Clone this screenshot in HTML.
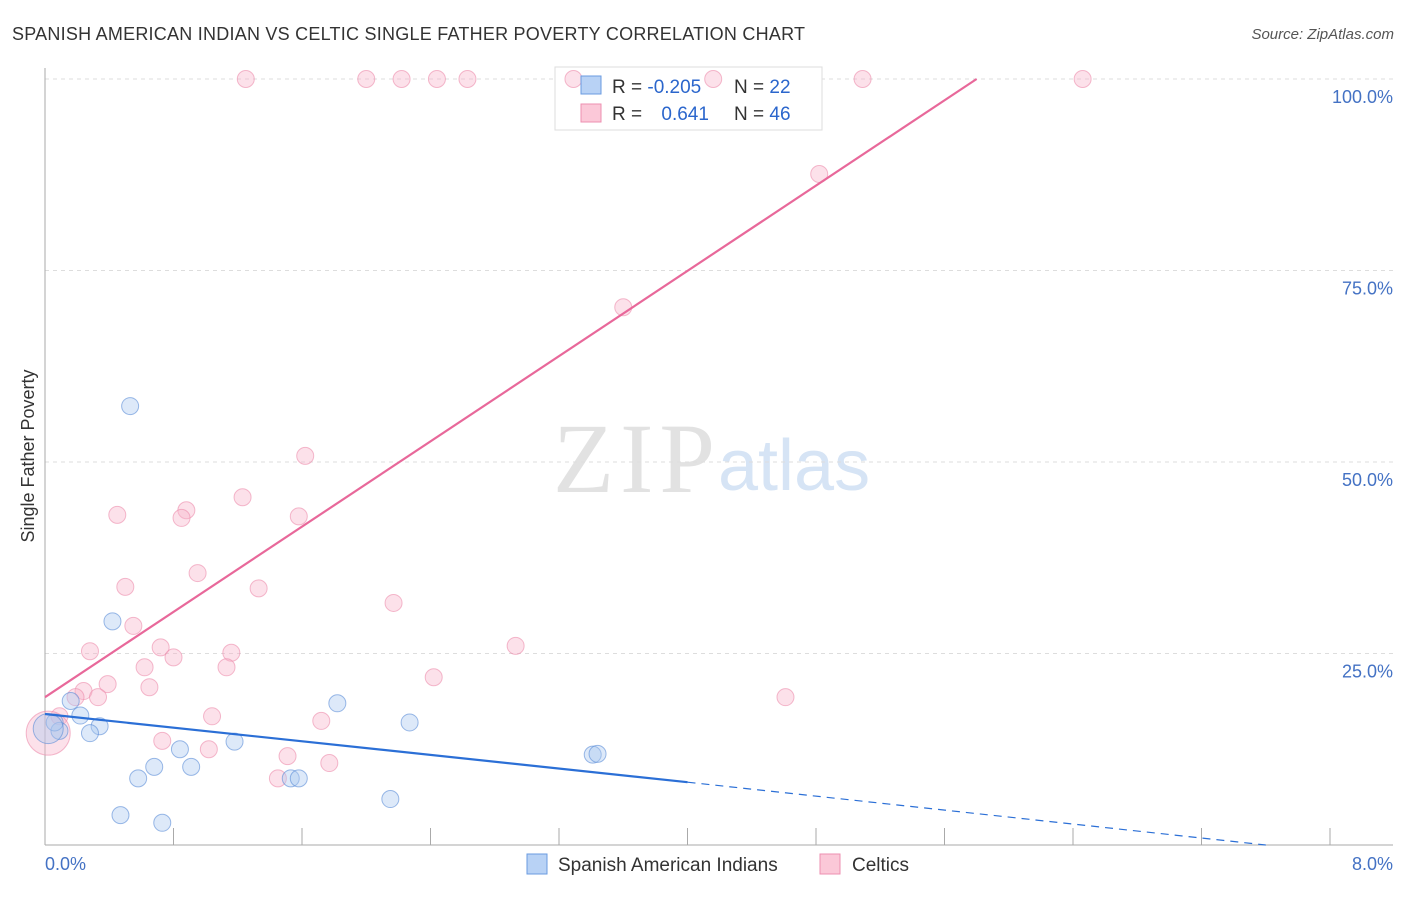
<!DOCTYPE html>
<html><head><meta charset="utf-8"><style>
body{margin:0;background:#fff;font-family:"Liberation Sans",sans-serif}
</style></head><body>
<svg id="chart" width="1406" height="892" font-family="Liberation Sans, sans-serif">
<text x="12" y="40" font-size="18" fill="#333" textLength="793">SPANISH AMERICAN INDIAN VS CELTIC SINGLE FATHER POVERTY CORRELATION CHART</text>
<text x="1394" y="39" font-size="15" fill="#555" font-style="italic" text-anchor="end">Source: ZipAtlas.com</text>
<text x="553" y="492" font-size="100" fill="#e2e2e2" style="font-family:'Liberation Serif',serif" textLength="162">ZIP</text>
<text x="718" y="490" font-size="72" fill="#d6e4f5">atlas</text>
<g id="grid"></g>
<g id="axes"></g>
<g>
<rect x="555" y="67" width="267" height="63" fill="#fff" stroke="#ddd"/>
</g>
<g id="pts"></g>
<g id="lines"></g>
<g>
<rect x="581" y="76" width="20" height="18" fill="#b8d2f5" stroke="#6a9be0"/>
<rect x="581" y="104" width="20" height="18" fill="#fbc8d8" stroke="#ee8fb0"/>
<text x="612" y="93" font-size="19" fill="#333">R = <tspan fill="#2b66cc">-0.205</tspan></text>
<text x="734" y="93" font-size="19" fill="#333">N = <tspan fill="#2b66cc">22</tspan></text>
<text x="612" y="120" font-size="19" fill="#333">R = <tspan fill="#2b66cc" dx="14">0.641</tspan></text>
<text x="734" y="120" font-size="19" fill="#333">N = <tspan fill="#2b66cc">46</tspan></text>
</g>
<text transform="translate(34,456) rotate(-90)" font-size="18" fill="#333" text-anchor="middle">Single Father Poverty</text>
<text x="45" y="870" font-size="18" fill="#4472c4">0.0%</text>
<text x="1393" y="870" font-size="18" fill="#4472c4" text-anchor="end">8.0%</text>
<g>
<rect x="527" y="854" width="20" height="20" fill="#b8d2f5" stroke="#6a9be0"/>
<text x="558" y="871" font-size="19" fill="#333">Spanish American Indians</text>
<rect x="820" y="854" width="20" height="20" fill="#fbc8d8" stroke="#ee8fb0"/>
<text x="852" y="871" font-size="19" fill="#333">Celtics</text>
</g>
</svg>
<script>
const yTicks=[25,50,75,100];
const yTickLabels=["25.0%","50.0%","75.0%","100.0%"];
const xTicks=[0,0.8,1.6,2.4,3.2,4.0,4.8,5.6,6.4,7.2,8.0];
const blueX=[0.53,0.42,0.16,0.22,0.34,0.28,0.09,0.06,1.82,2.27,0.84,1.18,0.68,0.91,0.58,1.53,1.58,2.15,0.47,0.73,3.41,3.44,0.02];
const blueY=[57.3,29.2,18.8,16.9,15.5,14.6,14.9,16.0,18.5,16.0,12.5,13.5,10.2,10.2,8.7,8.7,8.7,6.0,3.9,2.9,11.8,11.9,15.2];
const pinkX=[1.25,2.0,2.22,2.44,2.63,3.29,4.16,5.09,6.46,4.82,3.6,1.62,1.23,0.88,0.85,0.45,1.58,0.5,0.95,1.33,2.17,0.55,0.72,1.16,0.8,0.28,2.93,0.62,1.13,0.39,0.65,2.42,4.61,0.24,0.33,0.19,1.04,1.72,0.09,0.73,1.02,1.51,1.77,1.45,0.02];
const pinkY=[100,100,100,100,100,100,100,100,100,87.6,70.2,50.8,45.4,43.7,42.7,43.1,42.9,33.7,35.5,33.5,31.6,28.6,25.8,25.1,24.5,25.3,26.0,23.2,23.2,21.0,20.6,21.9,19.3,20.1,19.3,19.3,16.8,16.2,16.8,13.6,12.5,11.6,10.7,8.7,14.6];
const blueSize=[8.5,8.5,8.5,8.5,8.5,8.5,8.5,8.5,8.5,8.5,8.5,8.5,8.5,8.5,8.5,8.5,8.5,8.5,8.5,8.5,8.5,8.5,15];
const pinkSize=[8.5,8.5,8.5,8.5,8.5,8.5,8.5,8.5,8.5,8.5,8.5,8.5,8.5,8.5,8.5,8.5,8.5,8.5,8.5,8.5,8.5,8.5,8.5,8.5,8.5,8.5,8.5,8.5,8.5,8.5,8.5,8.5,8.5,8.5,8.5,8.5,8.5,8.5,8.5,8.5,8.5,8.5,8.5,8.5,22];
const pinkLine=[[0,19.3],[5.8,100]];
const blueLine=[[0,17.1],[4.0,8.2]];
const blueDash=[[4.0,8.2],[7.6,0]];
const X=v=>45+v/0.8*128.5, Y=v=>845-v/25*191.5;
const NS="http://www.w3.org/2000/svg";
function mk(t,a,p){const e=document.createElementNS(NS,t);for(const k in a)e.setAttribute(k,a[k]);document.getElementById(p).appendChild(e);return e;}
yTicks.forEach((t,i)=>{
 const l=mk('line',{x1:45,x2:1393,y1:Y(t),y2:Y(t),stroke:'#ddd','stroke-dasharray':'4,4'},'grid');
 
 
 const tx=mk('text',{x:1393,y:Y(t)+24,'font-size':18,fill:'#4472c4','text-anchor':'end'},'grid');
 tx.textContent=yTickLabels[i];
 
 
});
const ax=mk('line',{x1:45,x2:45,y1:68,y2:845,stroke:'#aaa'},'axes');


const bx=mk('line',{x1:45,x2:1393,y1:845,y2:845,stroke:'#aaa'},'axes');


xTicks.forEach(t=>{
 const l=mk('line',{x1:X(t),x2:X(t),y1:828,y2:845,stroke:'#aaa'},'axes');
 
 
});
pinkX.forEach((v,i)=>{
 const c=mk('circle',{cx:X(v),cy:Y(pinkY[i]),r:pinkSize[i],fill:'rgba(248,180,203,0.4)',stroke:'rgba(236,140,172,0.6)'},'pts');
 
 
});
blueX.forEach((v,i)=>{
 const c=mk('circle',{cx:X(v),cy:Y(blueY[i]),r:blueSize[i],fill:'rgba(170,200,240,0.4)',stroke:'rgba(90,140,215,0.6)'},'pts');
 
 
});
const pl=mk('line',{x1:X(pinkLine[0][0]),y1:Y(pinkLine[0][1]),x2:X(pinkLine[1][0]),y2:Y(pinkLine[1][1]),stroke:'#e8689a','stroke-width':2.2},'lines');


const bl=mk('line',{x1:X(blueLine[0][0]),y1:Y(blueLine[0][1]),x2:X(blueLine[1][0]),y2:Y(blueLine[1][1]),stroke:'#2b6fd6','stroke-width':2.2},'lines');


const bd=mk('line',{x1:X(blueDash[0][0]),y1:Y(blueDash[0][1]),x2:X(blueDash[1][0]),y2:Y(blueDash[1][1]),stroke:'#2b6fd6','stroke-width':1.2,'stroke-dasharray':'8,6'},'lines');


</script>
</body></html>
